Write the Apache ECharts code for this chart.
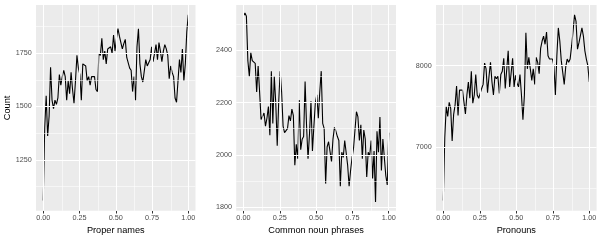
<!DOCTYPE html>
<html><head><meta charset="utf-8">
<script src="https://cdn.jsdelivr.net/npm/echarts@6/dist/echarts.min.js"></script>
<style>html,body{margin:0;padding:0;background:#fff}#c{width:600px;height:240px}</style>
</head><body><div id="c"></div>
<script>
// ---- data ----
const properNames = [
1059,1400,1550,1362,1454,1684,1530,1490,1530,1510,
1540,1650,1600,1640,1670,1640,1530,1620,1560,1660,
1580,1515,1620,1740,1680,1650,1530,1700,1700,1690,
1620,1640,1600,1640,1640,1640,1580,1570,1750,1740,
1820,1720,1760,1700,1770,1775,1780,1750,1835,1760,
1820,1865,1830,1800,1770,1795,1815,1730,1730,1680,
1670,1570,1640,1530,1780,1865,1700,1640,1615,1620,
1720,1690,1690,1720,1780,1710,1750,1790,1720,1800,
1760,1710,1760,1790,1770,1740,1630,1690,1660,1640,
1540,1520,1620,1720,1660,1770,1620,1700,1850,1930];
const commonNounPhrases = [
2532,2542,2530,2360,2300,2390,2360,2360,2350,2240,
2340,2240,2135,2140,2160,2110,2140,2185,2075,2320,
2120,2300,2200,2035,2200,2320,2240,2110,2085,2080,
2100,2150,2130,2175,2150,1960,2040,1985,2210,2020,
2060,2070,2280,2110,1985,2080,2205,2015,2110,2200,
2230,2140,2240,2320,2120,2100,1890,2030,2050,2055,
1975,2060,2105,2090,2070,2055,1880,2010,1990,2055,
2050,1960,1880,1940,1990,2025,2020,2165,2145,2055,
2115,1985,2095,2060,1915,2010,1995,2055,1910,2015,
1820,2090,2010,2145,1940,2060,1990,1920,1885,2085];
const pronouns = [
6352,7120,7500,7380,7550,7480,7080,7400,7520,7750,
7390,7700,7720,7700,7720,7410,7640,7800,7600,7930,
7540,7640,7890,7640,7600,7660,7720,7770,8030,7960,
7670,7870,8040,7800,7640,7870,7840,7870,7660,7890,
7930,8090,7720,7740,8180,7740,7910,8090,7740,7880,
7780,7740,7890,7640,7340,7640,8400,7960,8100,8080,
7820,7960,7770,8100,8040,7900,8210,8300,8360,8260,
8410,8120,8080,8060,8080,8000,7640,8120,8460,8300,
8060,8080,7770,7980,8080,8040,8080,8240,8420,8620,
8540,8200,8280,8300,8460,8360,8180,8080,8000,7800];

const xTitles = ['Proper names', 'Common noun phrases', 'Pronouns'];
const yTitle = 'Count';
const xTicks = [0, 0.25, 0.5, 0.75, 1];
const xTickLabels = ['0.00', '0.25', '0.50', '0.75', '1.00'];
const xMinor = [0.125, 0.375, 0.625, 0.875];
const yTicks1 = [1250, 1500, 1750];
const yMinor1 = [1125, 1375, 1625, 1875];
const yTicks2 = [1800, 2000, 2200, 2400];
const yMinor2 = [1900, 2100, 2300, 2500];
const yTicks3 = [7000, 8000];
const yMinor3 = [6500, 7500, 8500];

// ---- layout ----
const FONT = 'Liberation Sans, Arial, sans-serif';
const panels = [
  {values: properNames, yTicks: yTicks1, yMinor: yMinor1, yMin: 1011, yMax: 1976, left: 36, width: 159.5, yName: yTitle},
  {values: commonNounPhrases, yTicks: yTicks2, yMinor: yMinor2, yMin: 1786, yMax: 2573, left: 236.2, width: 159.8, yName: ''},
  {values: pronouns, yTicks: yTicks3, yMinor: yMinor3, yMin: 6226, yMax: 8740, left: 436, width: 160.6, yName: ''}
];

const grids = [], xAxes = [], yAxes = [], series = [];
panels.forEach((p, i) => {
  grids.push({left: p.left, width: p.width, top: 5, height: 209.5, show: true,
    backgroundColor: '#EBEBEB', borderWidth: 0, containLabel: false});
  xAxes.push({type: 'value', gridIndex: i, min: -0.05, max: 1.05,
    splitLine: {show: false}, axisLine: {show: false},
    axisTick: {show: true, customValues: xTicks, length: 2.7, lineStyle: {color: '#333333', width: 1}},
    axisLabel: {customValues: xTicks, formatter: v => xTickLabels[xTicks.indexOf(v)] ?? '',
      color: '#4D4D4D', fontSize: 7.3, fontFamily: FONT, margin: 3.3},
    name: xTitles[i], nameLocation: 'middle', nameGap: 11,
    nameTextStyle: {color: '#000', fontSize: 9.2, fontFamily: FONT, verticalAlign: 'top'}});
  yAxes.push({type: 'value', gridIndex: i, min: p.yMin, max: p.yMax,
    splitLine: {show: false}, axisLine: {show: false},
    axisTick: {show: true, customValues: p.yTicks, length: 2.7, lineStyle: {color: '#333333', width: 1}},
    axisLabel: {customValues: p.yTicks, formatter: v => String(v),
      color: '#4D4D4D', fontSize: 7.2, fontFamily: FONT, margin: 4.3},
    name: p.yName, nameLocation: 'middle', nameGap: 24,
    nameTextStyle: {color: '#000', fontSize: 9.2, fontFamily: FONT}});
  const n = p.values.length;
  const pts = p.values.map((v, k) => [k / (n - 1), v]);
  const lineData = [];
  p.yMinor.forEach(v => lineData.push({yAxis: v, lineStyle: {width: 0.55}}));
  xMinor.forEach(v => lineData.push({xAxis: v, lineStyle: {width: 0.55}}));
  p.yTicks.forEach(v => lineData.push({yAxis: v, lineStyle: {width: 1.1}}));
  xTicks.forEach(v => lineData.push({xAxis: v, lineStyle: {width: 1.1}}));
  series.push({type: 'line', xAxisIndex: i, yAxisIndex: i, z: 1, silent: true,
    data: [pts[0]], showSymbol: false, symbol: 'none', lineStyle: {opacity: 0},
    markLine: {silent: true, symbol: ['none', 'none'], animation: false,
      label: {show: false}, lineStyle: {color: '#FFFFFF', type: 'solid'}, data: lineData}});
  series.push({type: 'line', xAxisIndex: i, yAxisIndex: i, z: 3, data: pts,
    symbol: 'none', showSymbol: false, lineStyle: {color: '#000000', width: 1.1}});
});

const chart = echarts.init(document.getElementById('c'), null, {renderer: 'canvas'});
chart.setOption({animation: false, backgroundColor: '#FFFFFF',
  grid: grids, xAxis: xAxes, yAxis: yAxes, series: series});
</script></body></html>
